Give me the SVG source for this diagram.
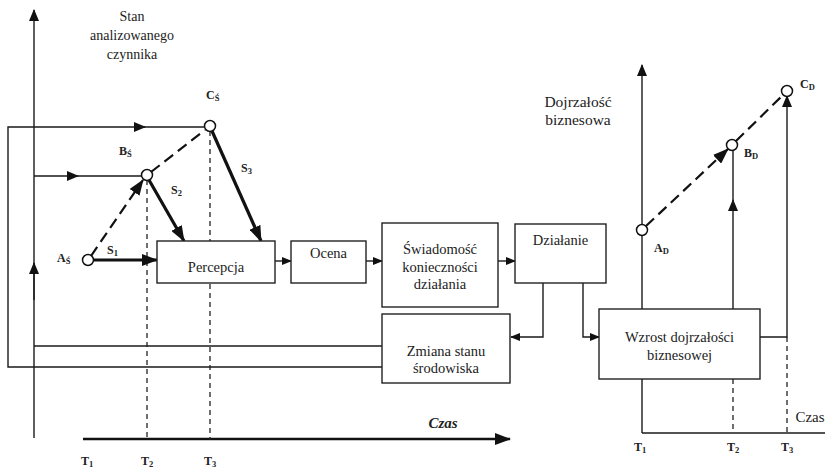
<svg xmlns="http://www.w3.org/2000/svg" width="825" height="470" viewBox="0 0 825 470">
<style>
.ln{fill:none;stroke:#1a1a1a;stroke-width:1.4}
.bold{fill:none;stroke:#111;stroke-width:3.2}
.dsh{fill:none;stroke:#111;stroke-width:2.2;stroke-dasharray:11,6}
.vd{fill:none;stroke:#222;stroke-width:1.3;stroke-dasharray:5,4}
.box{fill:#fff;stroke:#222;stroke-width:1.4}
.pt{fill:#fff;stroke:#111;stroke-width:1.5}
text{font-family:'Liberation Serif','Times New Roman',serif}
.t{font-size:14.5px;fill:#222;text-anchor:middle}
.ax{font-size:14px;fill:#222;text-anchor:middle}
.lb{font-size:12px;font-weight:bold;fill:#222}
.sb{font-size:8.5px}
</style>
<defs>
<marker id="a" markerUnits="userSpaceOnUse" markerWidth="12" markerHeight="10" refX="11" refY="5" orient="auto"><path d="M0,0 L12,5 L0,10 Z" fill="#111"/></marker>
<marker id="ab" markerUnits="userSpaceOnUse" markerWidth="16" markerHeight="12" refX="15" refY="6" orient="auto"><path d="M0,0 L16,6 L0,12 Z" fill="#111"/></marker>
<marker id="as" markerUnits="userSpaceOnUse" markerWidth="10" markerHeight="8" refX="9" refY="4" orient="auto"><path d="M0,0 L10,4 L0,8 Z" fill="#111"/></marker>
</defs>

<g id="connectors">
  <path class="ln" d="M34,438 V10" marker-end="url(#a)"/>
  <path class="ln" d="M34,300 V263" marker-end="url(#a)"/>
  <path class="bold" style="stroke-width:2.4" d="M83,439 H510" marker-end="url(#ab)"/>
  <path class="ln" d="M382,367 H8 V127 H145" marker-end="url(#a)"/>
  <path class="ln" d="M140,127 H204"/>
  <path class="ln" d="M382,346 H34"/>
  <path class="ln" d="M34,176 H78" marker-end="url(#a)"/>
  <path class="ln" d="M74,176 H142"/>
  <path class="vd" d="M147,180 V440"/>
  <path class="vd" d="M210,131 V440"/>
  <path class="dsh" d="M91,256 L143,180" marker-end="url(#ab)"/>
  <path class="dsh" d="M151,172 L205,130"/>
  <path class="bold" d="M93,260 H157" marker-end="url(#ab)"/>
  <path class="bold" d="M149,180 L184,241" marker-end="url(#ab)"/>
  <path class="bold" d="M212,131 L261,241" marker-end="url(#ab)"/>
  <path class="ln" d="M275,261 H291" marker-end="url(#as)"/>
  <path class="ln" d="M366,261 H382" marker-end="url(#as)"/>
  <path class="ln" d="M498,261 H515" marker-end="url(#as)"/>
  <path class="ln" d="M543,283 V337 H511" marker-end="url(#as)"/>
  <path class="ln" d="M583,283 V337 H599" marker-end="url(#as)"/>
  <path class="ln" d="M642,433 V65" marker-end="url(#a)"/>
  <path class="ln" d="M642,433 H825"/>
  <path class="vd" d="M733,379 V433"/>
  <path class="vd" d="M787,337 V433"/>
  <path class="ln" d="M733,309 V200" marker-end="url(#a)"/>
  <path class="ln" d="M733,205 V150"/>
  <path class="ln" d="M760,337 H787 V96" marker-end="url(#a)"/>
  <path class="dsh" d="M646,226 L728,149" marker-end="url(#ab)"/>
  <path class="dsh" d="M736,141 L783,95"/>
</g>

<g id="percepcja"><rect class="box" x="157" y="241" width="118" height="42"/><text class="t" x="216" y="272">Percepcja</text></g>
<g id="ocena"><rect class="box" x="291" y="241" width="75" height="42"/><text class="t" x="328.5" y="258">Ocena</text></g>
<g id="swiadomosc"><rect class="box" x="382" y="223" width="116" height="84"/><text class="t" x="440" y="254">Świadomość</text><text class="t" x="440" y="272">konieczności</text><text class="t" x="440" y="289">działania</text></g>
<g id="dzialanie"><rect class="box" x="515" y="224" width="91" height="59"/><text class="t" x="560.5" y="245">Działanie</text></g>
<g id="zmiana"><rect class="box" x="382" y="314" width="128" height="69"/><text class="t" x="446" y="356">Zmiana stanu</text><text class="t" x="446" y="373">środowiska</text></g>
<g id="wzrost"><rect class="box" x="599" y="309" width="161" height="70"/><text class="t" x="679.5" y="342">Wzrost dojrzałości</text><text class="t" x="679.5" y="360">biznesowej</text></g>

<g id="points">
  <circle class="pt" cx="88" cy="260" r="5.5"/>
  <circle class="pt" cx="147" cy="175" r="5.5"/>
  <circle class="pt" cx="210" cy="126" r="5.5"/>
  <circle class="pt" cx="642" cy="230" r="5.5"/>
  <circle class="pt" cx="732" cy="145" r="5.5"/>
  <circle class="pt" cx="787" cy="91" r="5.5"/>
</g>

<g id="labels">
  <text class="ax" x="132" y="21">Stan</text>
  <text class="ax" x="132" y="40">analizowanego</text>
  <text class="ax" x="132" y="59">czynnika</text>
  <text class="ax" x="578" y="107" style="font-size:15.5px">Dojrzałość</text>
  <text class="ax" x="578" y="125" style="font-size:15.5px">biznesowa</text>
  <text class="lb" x="206" y="99">C<tspan class="sb" dy="2">Ś</tspan></text>
  <text class="lb" x="119" y="155">B<tspan class="sb" dy="2">Ś</tspan></text>
  <text class="lb" x="57" y="262">A<tspan class="sb" dy="2">Ś</tspan></text>
  <text class="lb" x="107" y="254">S<tspan class="sb" dy="2">1</tspan></text>
  <text class="lb" x="171" y="194">S<tspan class="sb" dy="2">2</tspan></text>
  <text class="lb" x="241" y="172">S<tspan class="sb" dy="2">3</tspan></text>
  <text class="lb" x="654" y="252">A<tspan class="sb" dy="2">D</tspan></text>
  <text class="lb" x="744" y="157">B<tspan class="sb" dy="2">D</tspan></text>
  <text class="lb" x="800" y="88">C<tspan class="sb" dy="2">D</tspan></text>
  <text class="lb" x="81" y="465">T<tspan class="sb" dy="2">1</tspan></text>
  <text class="lb" x="141" y="465">T<tspan class="sb" dy="2">2</tspan></text>
  <text class="lb" x="204" y="465">T<tspan class="sb" dy="2">3</tspan></text>
  <text class="lb" x="634" y="451">T<tspan class="sb" dy="2">1</tspan></text>
  <text class="lb" x="727" y="451">T<tspan class="sb" dy="2">2</tspan></text>
  <text class="lb" x="781" y="451">T<tspan class="sb" dy="2">3</tspan></text>
  <text x="443" y="428" style="font-size:15px;font-weight:bold;font-style:italic;fill:#222;text-anchor:middle">Czas</text>
  <text x="810" y="422" style="font-size:15px;fill:#222;text-anchor:middle">Czas</text>
</g>
</svg>
